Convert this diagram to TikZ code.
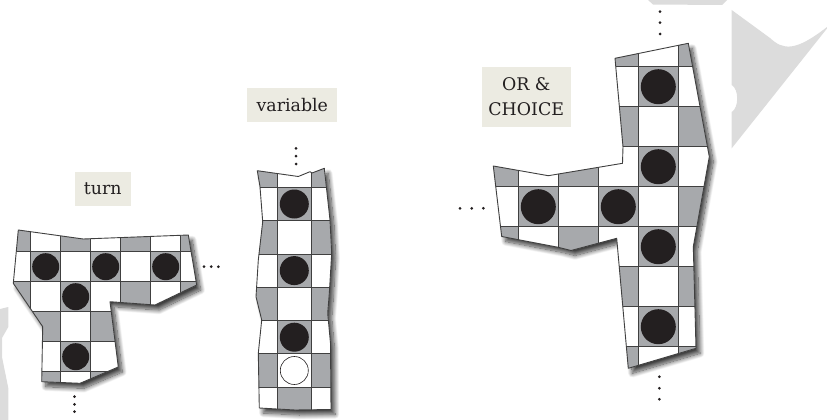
\documentclass[tikz,border=0pt]{standalone}
\usepackage{fontspec}
\setmainfont{DejaVu Serif}
\usetikzlibrary{shadows.blur}
\definecolor{cellgray}{HTML}{A7A9AC}
\definecolor{ink}{HTML}{231F20}
\definecolor{labelbg}{HTML}{ECEBE2}
\definecolor{wmark}{HTML}{DCDCDC}
\definecolor{gridc}{HTML}{404040}
\tikzset{
  gadget/.style={fill=white, blur shadow={shadow xshift=4pt, shadow yshift=-5pt, shadow blur radius=4.5pt, shadow blur steps=14, shadow opacity=75}},
  outline/.style={draw=gridc, line width=0.9pt, line join=round},
  gridline/.style={draw=gridc, line width=0.8pt},
  stone/.style={fill=ink},
  openstone/.style={fill=white, draw=ink, line width=0.6pt},
  lbl/.style={fill=labelbg, text=ink, font=\fontsize{17.4}{25}\selectfont, inner sep=0pt, align=center},
  dotc/.style={fill=ink},
}
\def\turnpath{(18.3,230) -- (83.3,239) -- (188.3,235) -- (196.7,285) -- (155,305) -- (110,301.7) -- (118.3,367) -- (80,383.3) -- (41.7,381.7) -- (42.7,326.7) -- (13.3,283.3) -- cycle}
\def\varpath{(257.3,170.7) -- (270,172.5) -- (298.3,176.5) -- (310,171.7) -- (312,173) -- (324.3,168.3) -- (330,220) -- (331.7,253.3) -- (329.3,293.3) -- (327.7,313.3) -- (330.5,343.3) -- (331,409.5) -- (295,410) -- (259.3,408) -- (258.3,353.3) -- (261.7,320) -- (256,296.7) -- (258.3,260) -- (262.7,221.7) -- (260,186.7) -- cycle}
\def\orpath{(615,58.3) -- (688.3,43.3) -- (709.3,156.7) -- (693.3,246.7) -- (696,348.3) -- (628.3,368.3) -- (616.7,238.3) -- (571,250.5) -- (558.3,247.3) -- (501.7,236.5) -- (493.3,166) -- (548.3,175.7) -- (622.5,163.3) -- (623,146.7) -- cycle}
\begin{document}
\begin{tikzpicture}[x=1pt,y=-1pt]
\useasboundingbox (0,0) rectangle (827,420);
% background watermark shapes
\fill[wmark] (648,0) -- (727,0) -- (722,5) -- (653,4.5) -- cycle;
\fill[wmark] (731.7,10) -- (770,38) .. controls (783,50) and (795,52) .. (827,27) -- (827,28.5) -- (731.7,148.3) -- (731.7,112) .. controls (739,108) and (739,89) .. (731.7,85) -- cycle;
\fill[wmark] (0,309) -- (8.3,307) -- (8.3,327) -- (2,338) -- (2,357) -- (8.3,388) -- (8.3,420) -- (0,420) -- cycle;

% ---------- turn gadget ----------
\path[gadget] \turnpath;
\begin{scope}
\clip \turnpath;
\foreach \j in {-1,...,5}{\foreach \i in {-1,...,4}{
  \pgfmathtruncatemacro\parity{mod(\i+\j+10,2)}
  \ifnum\parity=0 \fill[cellgray] (30.7+30*\j,251.7+30*\i) rectangle ++(30,30);\fi}}
\foreach \k in {0,...,5} \draw[gridline] (30.7+30*\k,200) -- ++(0,220);
\foreach \k in {0,...,4} \draw[gridline] (0,251.7+30*\k) -- ++(220,0);
\end{scope}
\foreach \j/\i in {0/0,2/0,4/0,1/1,1/3}
  \fill[stone] (45.7+30*\j,266.7+30*\i) circle[radius=13.5pt];
\draw[outline] \turnpath;

% ---------- variable gadget ----------
\path[gadget] \varpath;
\begin{scope}
\clip \varpath;
\foreach \j in {-1,...,1}{\foreach \i in {-1,...,6}{
  \pgfmathtruncatemacro\parity{mod(\i+\j+10,2)}
  \ifnum\parity=0 \fill[cellgray] (277.7+33.3*\j,187.3+33.3*\i) rectangle ++(33.3,33.3);\fi}}
\foreach \k in {0,1} \draw[gridline] (277.7+33.3*\k,150) -- ++(0,270);
\foreach \k in {0,...,6} \draw[gridline] (240,187.3+33.3*\k) -- ++(110,0);
\end{scope}
\foreach \i in {0,2,4}
  \fill[stone] (294.3,204+33.3*\i) circle[radius=14.5pt];
\draw[openstone] (294.3,204+33.3*5) circle[radius=14pt];
\draw[outline] \varpath;

% ---------- OR & CHOICE gadget ----------
\path[gadget] \orpath;
\begin{scope}
\clip \orpath;
\foreach \j in {-1,...,4}{\foreach \i in {-1,...,7}{
  \pgfmathtruncatemacro\parity{mod(\i+\j+10,2)}
  \ifnum\parity=1 \fill[cellgray] (518.3+40*\j,66.7+40*\i) rectangle ++(40,40);\fi}}
\foreach \k in {0,...,4} \draw[gridline] (518.3+40*\k,20) -- ++(0,380);
\foreach \k in {0,...,7} \draw[gridline] (470,66.7+40*\k) -- ++(260,0);
\end{scope}
\foreach \j/\i in {3/0,3/2,3/4,3/6,0/3,2/3}
  \fill[stone] (538.3+40*\j,86.7+40*\i) circle[radius=17.5pt];
\draw[outline] \orpath;

% ---------- dots ----------
\foreach \p in {(204,266.7),(211.2,266.7),(218.4,266.7),
                (74.5,396.7),(74.5,404.3),(74.5,411.7),
                (296,148.3),(296,156.2),(296,164),
                (460,208.3),(471.7,208.3),(483.3,208.3),
                (660,11.7),(660,22.7),(660,34),
                (659.3,376.7),(659.3,388.3),(659.3,399.3)}
  \fill[dotc] \p circle[radius=1.5pt];

% ---------- labels ----------
\node[lbl, minimum width=55.7pt, minimum height=33.4pt] (turn) at (102.8,189) {turn};
\node[lbl, minimum width=90pt, minimum height=33.4pt] (variable) at (292.3,105) {variable};
\node[lbl, minimum width=89pt, minimum height=60pt] (orchoice) at (526.2,96.7) {OR \&\\CHOICE};
\end{tikzpicture}
\end{document}
